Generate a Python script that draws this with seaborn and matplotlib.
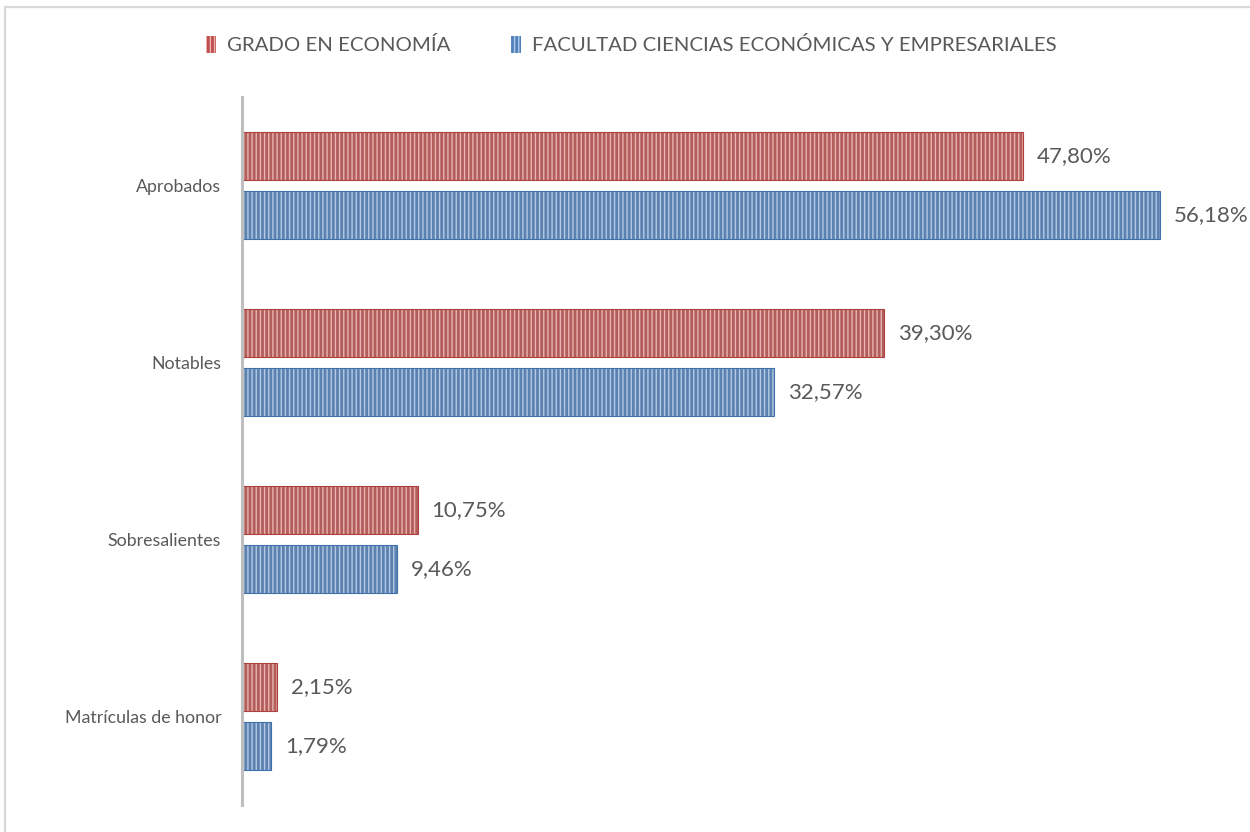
import matplotlib
matplotlib.use('Agg')
import matplotlib.pyplot as plt
from matplotlib.patches import Rectangle
import seaborn as sns
import pandas as pd

# datos
categorias = ['Aprobados', 'Notables', 'Sobresalientes', 'Matrículas de honor']
series = ['GRADO EN ECONOMÍA', 'FACULTAD CIENCIAS ECONÓMICAS Y EMPRESARIALES']
economia = [47.80, 39.30, 10.75, 2.15]
facultad = [56.18, 32.57, 9.46, 1.79]
titulo = 'Figura 4. Resultados de calificaciones (en porcentaje) en el grado de Economía y en la Facultad de CC. EE. y EE.'

colores = ['#C0504D', '#4F81BD']
rayas = ['#E9B3B1', '#B3C9E6']
bordes = ['#B0403D', '#3F71AD']

df = pd.DataFrame({'categoria': categorias, series[0]: economia, series[1]: facultad})
df = df.melt(id_vars='categoria', var_name='serie', value_name='valor')

sns.set_style('white')
plt.rcParams['font.family'] = ['Lato', 'DejaVu Sans']
plt.rcParams['hatch.linewidth'] = 1.0
gris = '#595959'

fig = plt.figure(figsize=(12.5, 8.32), dpi=100)
ax = fig.add_axes([242 / 1250, 1 - 805 / 832, (1240 - 242) / 1250, (805 - 97) / 832])

sns.barplot(data=df, y='categoria', x='valor', hue='serie', orient='h',
            palette=colores, width=0.66, gap=0.18, ax=ax, legend=False)

# rayado vertical + borde
for i, cont in enumerate(ax.containers):
    for p in cont:
        p.set_hatch('||||')
        p.set_edgecolor(rayas[i])
        p.set_linewidth(0)
        ax.add_patch(Rectangle(p.get_xy(), p.get_width(), p.get_height(),
                               fill=False, edgecolor=bordes[i], linewidth=0.8))
    vals = economia if i == 0 else facultad
    etiquetas = [f'{v:.2f}'.replace('.', ',') + '%' for v in vals]
    ax.bar_label(cont, labels=etiquetas, padding=10, fontsize=16, color=gris)

ax.set_xlim(0, 61.08)
ax.set_ylim(3.5, -0.5)
ax.set_xlabel('')
ax.set_ylabel('')
ax.set_xticks([])
ax.tick_params(axis='y', length=0, pad=15, labelsize=12.8, labelcolor=gris)
for s in ['top', 'right', 'bottom']:
    ax.spines[s].set_visible(False)
ax.spines['left'].set_color('#BFBFBF')
ax.spines['left'].set_linewidth(2.2)

# leyenda
handles = [Rectangle((0, 0), 1, 1, facecolor=colores[i], edgecolor=rayas[i], hatch='||||', linewidth=0)
           for i in range(2)]
fig.legend(handles, series, loc='center', bbox_to_anchor=(0.505, 1 - 45 / 832), ncol=2,
           frameon=False, fontsize=14.7, labelcolor=gris, handlelength=0.5, handleheight=0.9,
           handletextpad=0.5, columnspacing=3.0)

# marco del gráfico
fig.patches.append(Rectangle((5 / 1250, -0.01), 1.02, 1 - 7 / 832 + 0.01, transform=fig.transFigure,
                             fill=False, edgecolor='#D9D9D9', linewidth=1.6))

# título (cortado en la imagen original)
fig.text(0.008, 1 + 3.5 / 832, titulo, ha='left', va='baseline', fontsize=16,
         fontweight='bold', fontstyle='italic', color='#1F3864', family=['Lato', 'DejaVu Sans'])

fig.savefig('out.png', dpi=100)
